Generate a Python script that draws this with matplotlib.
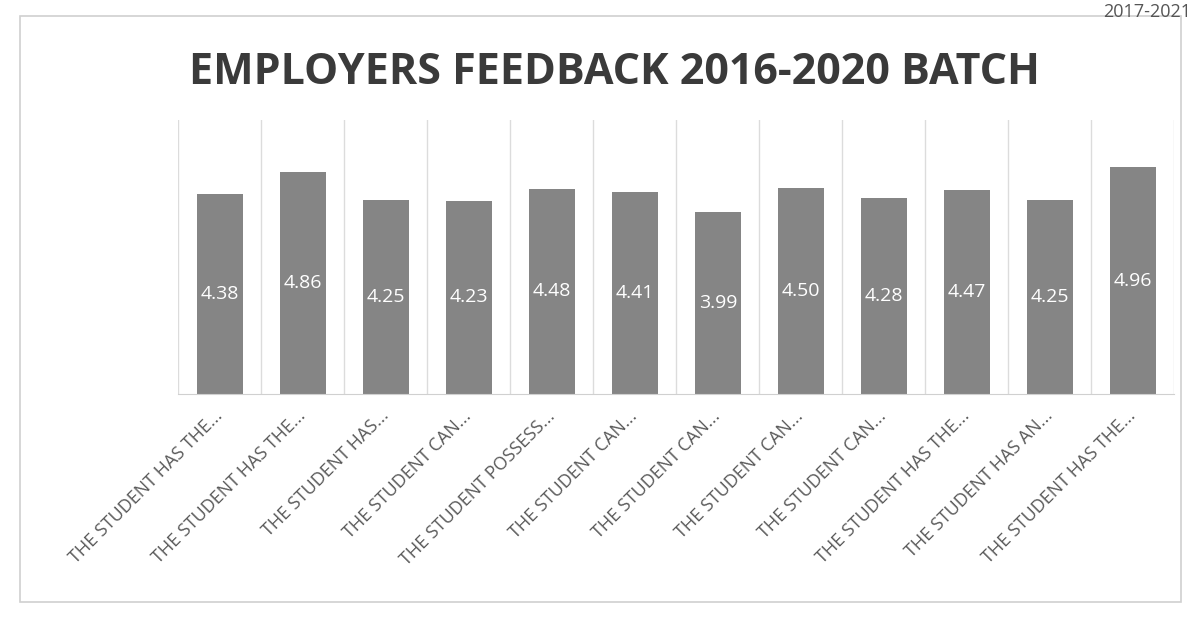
import matplotlib.pyplot as plt
from matplotlib.patches import Rectangle
import numpy as np

categories = ["THE STUDENT HAS THE...", "THE STUDENT HAS THE...", "THE STUDENT HAS...",
              "THE STUDENT CAN...", "THE STUDENT POSSESS...", "THE STUDENT CAN...",
              "THE STUDENT CAN...", "THE STUDENT CAN...", "THE STUDENT CAN...",
              "THE STUDENT HAS THE...", "THE STUDENT HAS AN...", "THE STUDENT HAS THE..."]
scores = [4.38, 4.86, 4.25, 4.23, 4.48, 4.41, 3.99, 4.50, 4.28, 4.47, 4.25, 4.96]
title = "EMPLOYERS FEEDBACK 2016-2020 BATCH"

plt.rcParams['font.family'] = ['Open Sans', 'DejaVu Sans']

fig = plt.figure(figsize=(11.97, 6.27), dpi=100)
ax = fig.add_axes([0.149, 0.372, 0.832, 0.437])

# outer chart frame
fig.patches.append(Rectangle((0.017, 0.04), 0.97, 0.935, transform=fig.transFigure,
                             fill=False, edgecolor='#d0d0d0', linewidth=1.2))

x = np.arange(len(scores))
bars = ax.bar(x, scores, width=0.56, color='#858585', zorder=2)
for xi, v in zip(x, scores):
    ax.text(xi, v / 2, f"{v:.2f}", ha='center', va='center', color='white',
            fontsize=14, zorder=3)

ax.set_xlim(-0.5, len(scores) - 0.5)
ax.set_ylim(0, 6)
for b in np.arange(-0.5, len(scores), 1.0):
    ax.axvline(b, color='#dcdcdc', linewidth=1, zorder=1)

ax.set_xticks(x)
ax.set_xticklabels(categories, rotation=45, ha='right', va='center',
                   rotation_mode='anchor', fontsize=13, color='#5a5a5a')
ax.tick_params(axis='x', length=0, pad=14)
ax.set_yticks([])
for s in ['top', 'left', 'right']:
    ax.spines[s].set_visible(False)
ax.spines['bottom'].set_color('#d0d0d0')

fig.text(0.513, 0.885, title, ha='center', va='center', fontsize=31,
         fontweight='bold', color='#3a3a3a')
fig.text(0.995, 0.995, "2017-2021", ha='right', va='top', fontsize=13, color='#555555')

fig.savefig('out.png', dpi=100)
